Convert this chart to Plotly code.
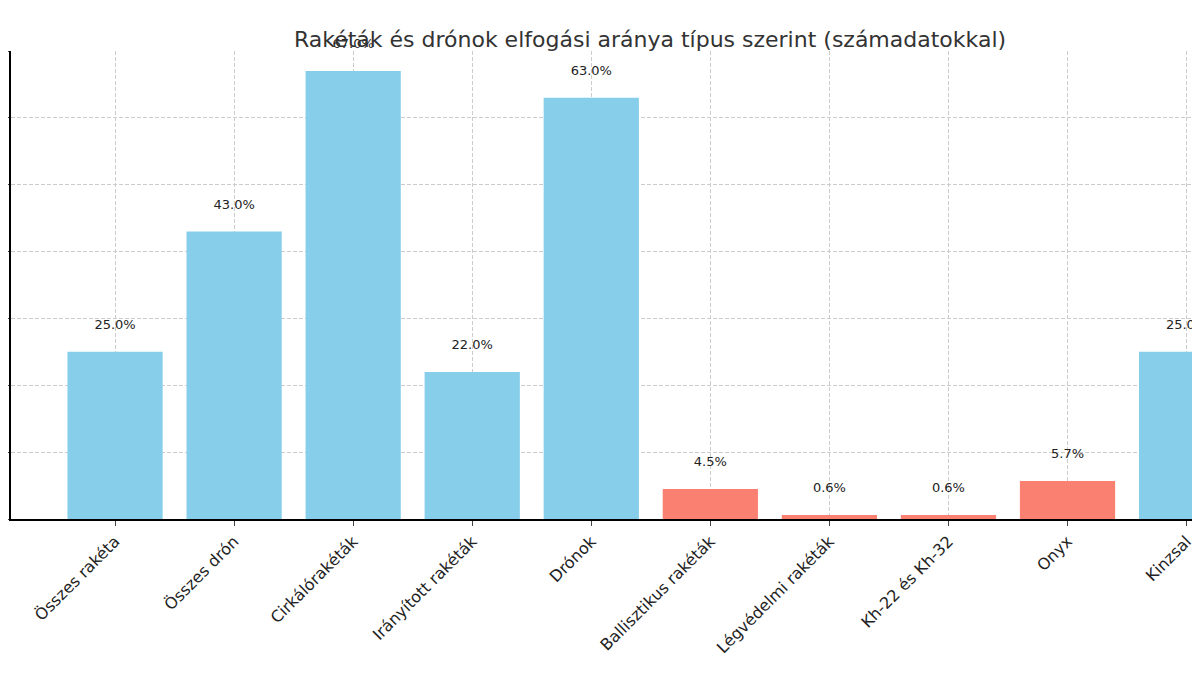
import plotly.graph_objects as go

categories = ["Összes rakéta", "Összes drón", "Cirkálórakéták", "Irányított rakéták", "Drónok",
              "Ballisztikus rakéták", "Légvédelmi rakéták", "Kh-22 és Kh-32", "Onyx", "Kinzsal"]
values = [25.0, 43.0, 67.0, 22.0, 63.0, 4.5, 0.6, 0.6, 5.7, 25.0]
colors = ["#87CEEB"] * 5 + ["#FA8072"] * 4 + ["#87CEEB"]
labels = [f"{v:.1f}%<br> " for v in values]

fig = go.Figure(go.Bar(
    x=list(range(len(categories))), y=values, marker_color=colors, width=0.8,
    marker_line_width=0,
    text=labels, textposition="outside", textfont=dict(size=13, color="#222"),
    cliponaxis=False,
))
fig.update_layout(
    width=1200, height=675, plot_bgcolor="white", paper_bgcolor="white",
    font=dict(family="DejaVu Sans", color="#222"),
    title=dict(text="Rakéták és drónok elfogási aránya típus szerint (számadatokkal)",
               x=0.535, xanchor="center", y=0.965, font=dict(size=22, color="#333")),
    margin=dict(l=3, r=0, t=43, b=164, autoexpand=False),
    showlegend=False, bargap=0.2,
)
fig.update_xaxes(
    range=[-0.874, 9.18], tickmode="array", tickvals=list(range(len(categories))),
    ticktext=categories, tickangle=-45, tickfont=dict(size=16, color="#222"),
    showgrid=True, gridcolor="#cccccc", griddash="4px,2px", automargin=False,
    showline=True, linecolor="black", linewidth=1.5, ticks="outside", ticklen=5,
)
fig.update_yaxes(
    range=[0, 70], dtick=10, showticklabels=False, ticks="outside", ticklen=5,
    showgrid=True, gridcolor="#cccccc", griddash="4px,2px", automargin=False,
    showline=True, linecolor="black", linewidth=1.5, zeroline=False,
)
fig.write_html("out.html")
